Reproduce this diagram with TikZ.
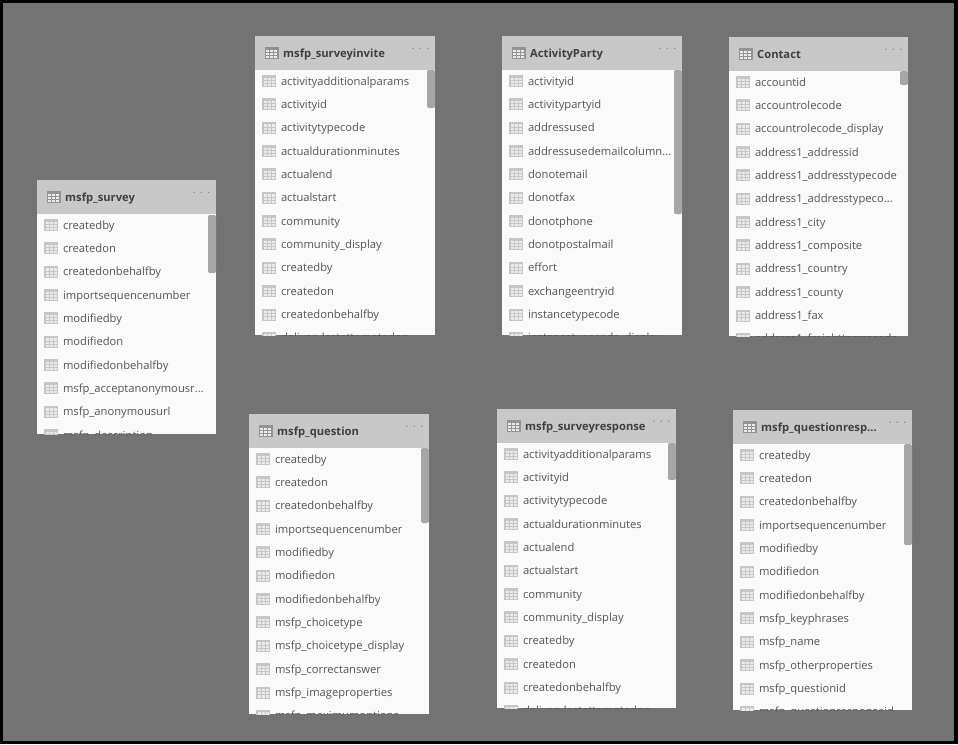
\documentclass[tikz,border=0pt]{standalone}
\usepackage{fontspec}
\setmainfont{Open Sans}
\definecolor{canvasgray}{HTML}{737373}
\definecolor{headgray}{HTML}{C8C8C8}
\definecolor{cardwhite}{HTML}{FAFAFA}
\definecolor{thumbgray}{HTML}{A6A6A6}
\definecolor{fieldtext}{HTML}{555555}
\definecolor{titletext}{HTML}{404040}
\newcommand{\cutoff}{.{}.{}.}
\tikzset{
	fieldname/.style={anchor=base west, inner sep=0pt, text=fieldtext, font=\fontsize{11.2}{12}\selectfont},
	tablename/.style={anchor=base west, inner sep=0pt, text=titletext, font=\fontsize{11.2}{12}\selectfont\bfseries},
	menudots/.style={anchor=center, inner sep=0pt, text=gray!70!black, font=\fontsize{11}{11}\selectfont},
	pics/gridicon/.style={code={
		\fill[#1] (-7,-6) rectangle (7,6);
		\fill[white!92!black] (-5.5,-3.5) rectangle (5.5,5);
		\foreach \gx in {-2,2} \draw[#1, line width=.7pt] (\gx,-3.5) -- (\gx,5);
		\foreach \gy in {-.7,2.2} \draw[#1, line width=.7pt] (-5.5,\gy) -- (5.5,\gy);
	}},
	pics/gridicon/.default=gray!45
}
% left, top, width, height, scroll top, scroll height, title, fields
\newcommand{\tablecard}[9]{
	\begin{scope}
		\clip (#1,#2) rectangle ++(#3,#4);
		\fill[cardwhite] (#1,#2) rectangle ++(#3,#4);
		\fill[headgray] (#1,#2) rectangle ++(#3,34);
		\fill[thumbgray, rounded corners=2pt] (#1+#3-8,#5) rectangle ++(8,#6);
		\pic at (#1+16.5,#2+17) {gridicon=gray!85};
		\node[tablename] (#7) at (#1+28,#2+21) {#8};
		\node[menudots] (#7 dots) at (#1+#3-14.5,#2+13) {$\cdot\,\cdot\,\cdot$};
		\foreach \fieldtext [count=\i from 0] in {#9} {
			\pic at (#1+14,#2+45+\i*23.35) {gridicon};
			\node[fieldname] (#7 f\i) at (#1+25.8,#2+49+\i*23.35) {\fieldtext};
		}
	\end{scope}
}
\begin{document}
\begin{tikzpicture}[x=1pt, y=-1pt]
	\fill[black] (0,0) rectangle (958,744);
	\fill[canvasgray] (3,3) rectangle (954,741);
	\useasboundingbox (0,0) rectangle (958,744);

	\tablecard{37}{180}{179}{254}{215}{58}{survey}{msfp\_survey}{createdby,createdon,createdonbehalfby,importsequencenumber,modifiedby,modifiedon,modifiedonbehalfby,msfp\_acceptanonymousr\cutoff,msfp\_anonymousurl,msfp\_description}
	\tablecard{255}{36}{180}{299}{70}{38}{invite}{msfp\_surveyinvite}{activityadditionalparams,activityid,activitytypecode,actualdurationminutes,actualend,actualstart,community,community\_display,createdby,createdon,createdonbehalfby,deliverylastattemptedon}
	\tablecard{502}{36}{180}{299}{70}{144}{party}{ActivityParty}{activityid,activitypartyid,addressused,addressusedemailcolumn\cutoff,donotemail,donotfax,donotphone,donotpostalmail,effort,exchangeentryid,instancetypecode,instancetypecode\_display}
	\tablecard{729}{37}{179}{299}{71}{14}{contact}{Contact}{accountid,accountrolecode,accountrolecode\_display,address1\_addressid,address1\_addresstypecode,address1\_addresstypeco\cutoff,address1\_city,address1\_composite,address1\_country,address1\_county,address1\_fax,address1\_freighttermscode}
	\tablecard{249}{414}{180}{300}{448}{75}{question}{msfp\_question}{createdby,createdon,createdonbehalfby,importsequencenumber,modifiedby,modifiedon,modifiedonbehalfby,msfp\_choicetype,msfp\_choicetype\_display,msfp\_correctanswer,msfp\_imageproperties,msfp\_maximumoptions}
	\tablecard{497}{409}{179}{299}{443}{37}{response}{msfp\_surveyresponse}{activityadditionalparams,activityid,activitytypecode,actualdurationminutes,actualend,actualstart,community,community\_display,createdby,createdon,createdonbehalfby,deliverylastattemptedon}
	\tablecard{733}{410}{179}{300}{444}{101}{answer}{msfp\_questionresp\cutoff}{createdby,createdon,createdonbehalfby,importsequencenumber,modifiedby,modifiedon,modifiedonbehalfby,msfp\_keyphrases,msfp\_name,msfp\_otherproperties,msfp\_questionid,msfp\_questionresponseid}
\end{tikzpicture}
\end{document}
